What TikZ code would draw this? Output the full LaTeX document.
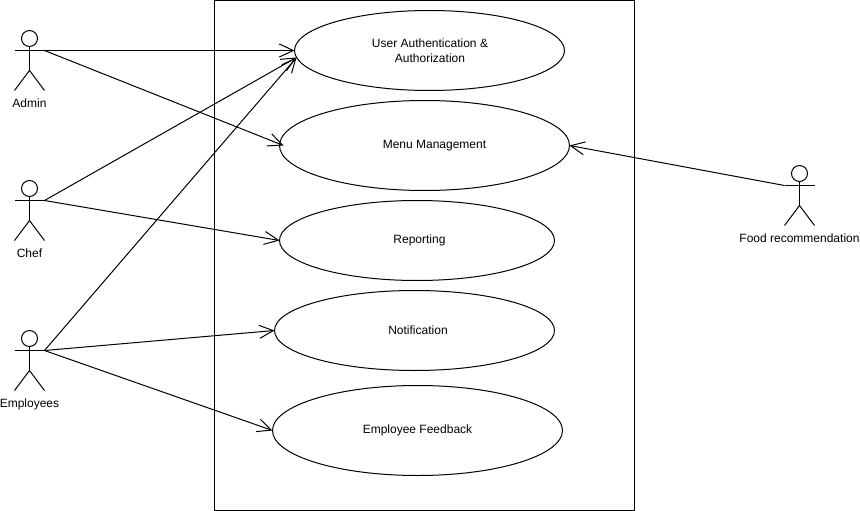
\documentclass[tikz,border=0pt]{standalone}
\usepackage{fontspec}
\setmainfont{Liberation Sans}
\usepackage{tikz}
\usetikzlibrary{arrows.meta, positioning, shapes.geometric}

\tikzset{
    pics/stickman/.style={code={
        \draw[thin line] (0,-12) circle[radius=8];
        \draw[thin line] (-15,0) -- (15,0);
        \draw[thin line] (0,-4) -- (0,20);
        \draw[thin line] (-15,40) -- (0,20) -- (15,40);
        \coordinate (-left) at (-15,0);
        \coordinate (-right) at (15,0);
        \coordinate (-base) at (0,40);
    }},
    thin line/.style={line width=1pt, black}
}

\begin{document}
\begin{tikzpicture}[
    x=1pt, y=-1pt,
    usecase/.style={draw, ellipse, line width=1pt, inner sep=0pt, outer sep=0pt, align=center, font=\fontsize{12}{15}\selectfont},
    actorname/.style={inner sep=0pt, font=\fontsize{12}{15}\selectfont},
    arrow/.style={-{Straight Barb[length=14pt, width=13pt, line width=1pt]}, line width=1pt}
]
\useasboundingbox (-0.5,-0.5) rectangle (859.5,510.5);

% System boundary
\node[draw, line width=1pt, inner sep=0pt, outer sep=0pt, minimum width=420pt, minimum height=510pt] (system) at (424,255) {};

% Use cases
\node[usecase, minimum width=270pt, minimum height=80pt] (auth) at (429,50) {\hspace*{1pt}User Authentication \&\\\hspace*{1pt}Authorization};
\node[usecase, minimum width=290pt, minimum height=90pt] (menu) at (424,145) {\hspace*{20pt}Menu Management};
\node[usecase, minimum width=275pt, minimum height=80pt] (report) at (416.5,240) {\hspace*{5pt}Reporting};
\node[usecase, minimum width=280pt, minimum height=80pt] (notify) at (414,330) {\hspace*{7pt}Notification};
\node[usecase, minimum width=290pt, minimum height=90pt] (feedback) at (417,430) {Employee Feedback};

% Actors
\pic (admin) at (29,50) {stickman};
\pic (chef) at (29,200) {stickman};
\pic (employees) at (29,350) {stickman};
\pic (food) at (799,185) {stickman};
\node[actorname, below=8.5pt of admin-base] (adminname) {Admin};
\node[actorname, below=8.5pt of chef-base] (chefname) {Chef};
\node[actorname, below=8.5pt of employees-base] (employeesname) {Employees};
\node[actorname, below=8.5pt of food-base] (foodname) {Food recommendation};

% Edges
\draw[arrow] (admin-right) -- (auth.west);
\draw[arrow] (admin-right) -- ([xshift=4pt]menu.west);
\draw[arrow] (chef-right) -- (auth.183);
\draw[arrow] (chef-right) -- (report.west);
\draw[arrow] (employees-right) -- (auth.183);
\draw[arrow] (employees-right) -- (notify.west);
\draw[arrow] (employees-right) -- (feedback.west);
\draw[arrow] (food-left) -- (menu.east);

\end{tikzpicture}
\end{document}
